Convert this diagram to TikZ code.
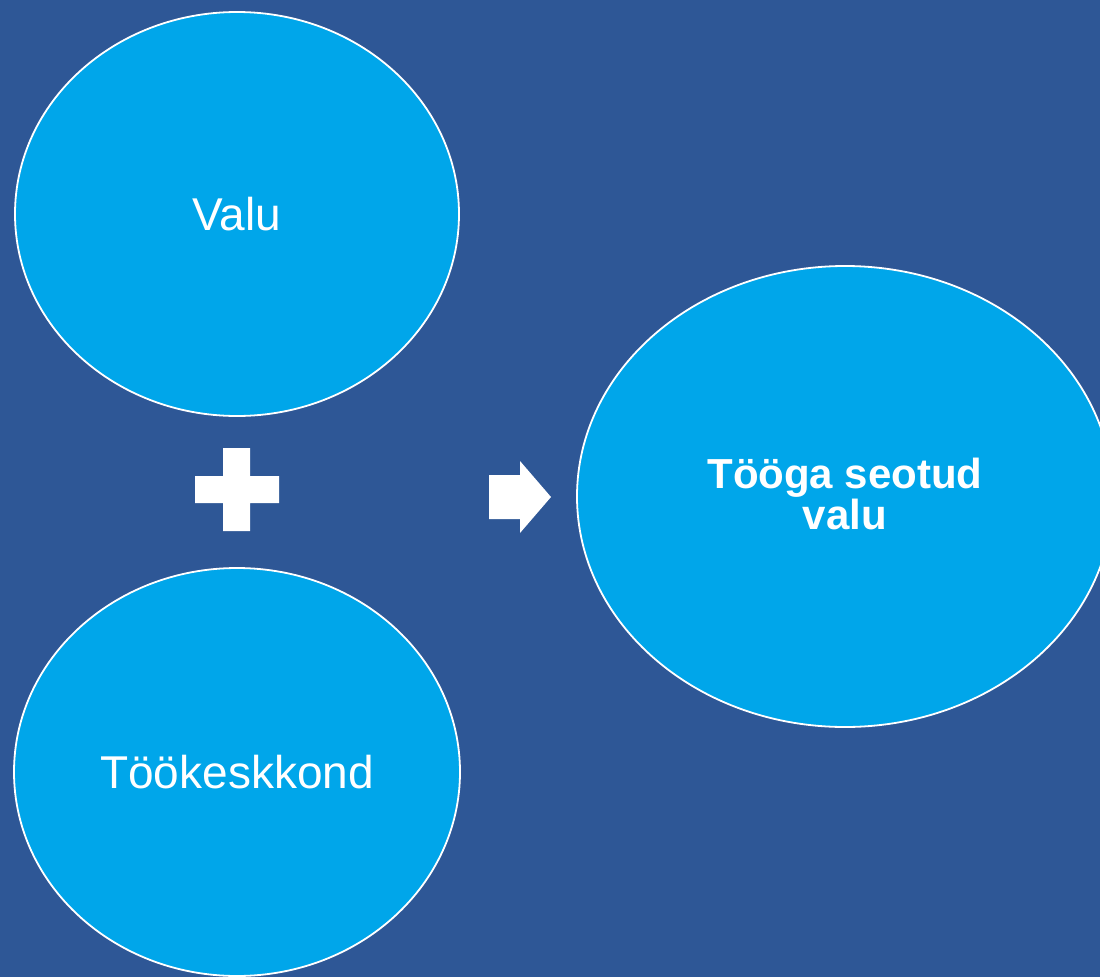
\documentclass[tikz,border=0pt]{standalone}
\usepackage{fontspec}
\setmainfont{Liberation Sans}
\usetikzlibrary{shapes.geometric}
\definecolor{bgblue}{RGB}{46,87,150}
\definecolor{circfill}{RGB}{0,166,234}
\begin{document}
\begin{tikzpicture}[x=1pt,y=-1pt,
  blob/.style={ellipse,draw=white,line width=1.8pt,fill=circfill,inner sep=0pt,
    text=white,align=center},
  plainlbl/.style={font=\fontsize{46}{50}\selectfont},
  boldlbl/.style={font=\fontsize{42}{35}\selectfont\bfseries}]
\fill[bgblue] (0,0) rectangle (1100,977);
\useasboundingbox (0,0) rectangle (1100,977);
\node[blob,minimum width=444pt,minimum height=404pt,plainlbl] (valu) at (237,214) {Valu};
\node[blob,minimum width=446pt,minimum height=408pt,plainlbl] (keskkond) at (237,772) {Töökeskkond};
\node[blob,minimum width=536pt,minimum height=461pt] (tulemus) at (845,496.5) {};
\node[boldlbl,text=white,align=center,inner sep=0pt] (tulemustekst) at (845,494) {Tööga seotud\\valu};
% plus sign
\fill[white] (223,448) -- (250,448) -- (250,476) -- (279,476) -- (279,503) -- (250,503)
  -- (250,531) -- (223,531) -- (223,503) -- (195,503) -- (195,476) -- (223,476) -- cycle;
% arrow
\fill[white] (489,475) -- (520,475) -- (520,461) -- (551,497) -- (520,533) -- (520,519)
  -- (489,519) -- cycle;
\end{tikzpicture}
\end{document}
